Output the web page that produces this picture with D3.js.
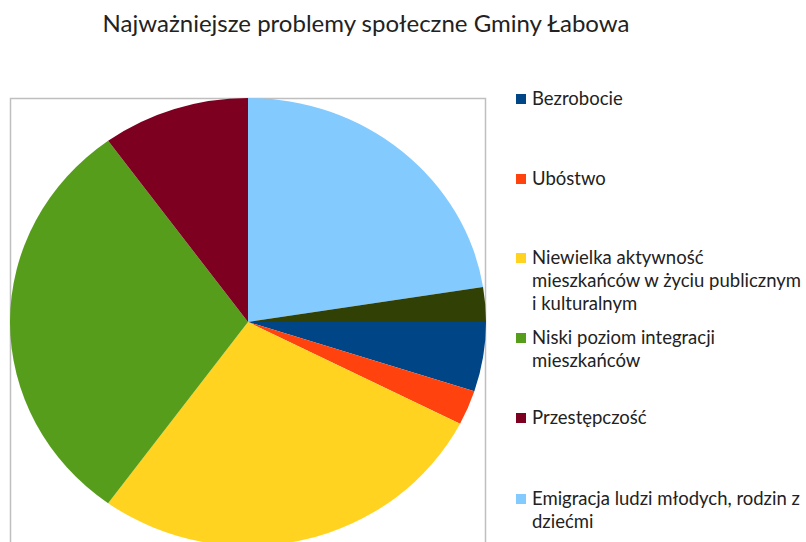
<!doctype html>
<html>
<head>
<meta charset="utf-8">
<script src="https://cdn.jsdelivr.net/npm/d3@7/dist/d3.min.js"></script>
<style>
  body { margin: 0; background: #fff; }
  text { font-family: Lato, "Open Sans", sans-serif; fill: #222; }
</style>
</head>
<body>
<svg id="chart"></svg>
<script>
var categories = ["Bezrobocie", "Ubóstwo",
  "Niewielka aktywność\nmieszkańców w życiu publicznym\ni kulturalnym",
  "Niski poziom integracji\nmieszkańców",
  "Przestępczość",
  "Emigracja ludzi młodych, rodzin z\ndziećmi",
  "Inne"];
var values = [2, 1, 11, 12, 4, 9, 1];
var colors = ["#004586", "#ff420e", "#ffd320", "#579d1c", "#7e0021", "#83caff", "#314004"];
// legend rows visible in the picture (the last entry falls below the frame)
var legendY = [99, 179, 258, 338, 418, 499];

var width = 806, height = 542;
var cx = 248, cy = 322, rx = 238, ry = 224;

var svg = d3.select("#chart").attr("width", width).attr("height", height);

svg.append("text")
   .attr("x", 366).attr("y", 32)
   .attr("text-anchor", "middle")
   .style("font-size", "24px")
   .text("Najważniejsze problemy społeczne Gminy Łabowa");

// plot area frame
svg.append("rect")
   .attr("x", 10.5).attr("y", 98.5)
   .attr("width", 475).attr("height", 460)
   .attr("fill", "none").attr("stroke", "#bfbfbf").attr("stroke-width", 1.5);

var data = categories.map((c, i) => ({name: c, value: values[i], color: colors[i]}));
var pie = d3.pie().sort(null).value(d => d.value)
            .startAngle(Math.PI / 2).endAngle(Math.PI / 2 + 2 * Math.PI);
var arc = d3.arc().innerRadius(0).outerRadius(ry);

var g = svg.append("g")
   .attr("transform", "translate(" + cx + "," + cy + ") scale(" + (rx / ry) + ",1)");
g.selectAll("path").data(pie(data)).enter().append("path")
   .attr("d", arc)
   .attr("fill", d => d.data.color);

// legend
var lineH = 23;
var leg = svg.selectAll("g.legend").data(data.slice(0, legendY.length)).enter().append("g")
   .attr("class", "legend")
   .attr("transform", (d, i) => "translate(516," + legendY[i] + ")");
leg.append("rect")
   .attr("x", 0).attr("y", -5).attr("width", 10).attr("height", 10)
   .attr("fill", d => d.color);
leg.each(function(d) {
  var t = d3.select(this).append("text")
     .attr("x", 16).attr("y", 0)
     .style("font-size", "18.5px");
  d.name.split("\n").forEach((line, j) => {
    t.append("tspan").attr("x", 16).attr("y", j * lineH).attr("dy", "0.35em").text(line);
  });
});
</script>
</body>
</html>
